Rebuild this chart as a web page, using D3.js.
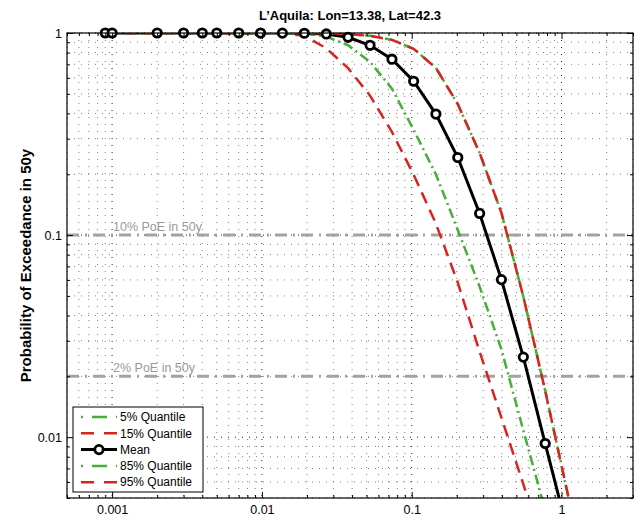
<!DOCTYPE html>
<html>
<head>
<meta charset="utf-8">
<script src="https://cdn.jsdelivr.net/npm/d3@7"></script>
<style>
body { margin: 0; background: #fff; }
text { font-family: "Liberation Sans", Arial, Helvetica, sans-serif; }
</style>
</head>
<body>
<div id="chart"></div>
<script>
// intensity levels (g) and probability of exceedance in 50y
var iml = [0.0009, 0.001, 0.002, 0.003, 0.004, 0.005, 0.007, 0.0098, 0.0137, 0.0192, 0.0269, 0.0376,
    0.0527, 0.0738, 0.103, 0.145, 0.203, 0.284, 0.397, 0.556, 0.778, 1.09, 1.52];

var q05 = [1, 1, 1, 1, 1, 1, 1, 1, 0.999, 0.995, 0.96, 0.87, 0.72, 0.53, 0.332, 0.2, 0.106, 0.0556,
    0.0272, 0.0108, 0.00435, 0.0018, 0.0007];
var q15 = [1, 1, 1, 1, 1, 1, 1, 1, 0.997, 0.97, 0.84, 0.67, 0.49, 0.324, 0.199, 0.114, 0.0582, 0.0265,
    0.0125, 0.00585, 0.00264, 0.0011, 0.0005];
var mean = [1, 1, 1, 1, 1, 1, 1, 0.9995, 0.999, 0.997, 0.989, 0.952, 0.869, 0.742, 0.577, 0.397, 0.242,
    0.128, 0.0602, 0.0249, 0.0093, 0.0035, 0.0012];
var q85 = [1, 1, 1, 1, 1, 1, 1, 1, 1, 1, 0.997, 0.988, 0.968, 0.925, 0.835, 0.672, 0.445, 0.255, 0.129,
    0.0496, 0.017, 0.0054, 0.0018];
var q95 = [1, 1, 1, 1, 1, 1, 1, 1, 1, 1, 0.997, 0.988, 0.968, 0.925, 0.835, 0.672, 0.445, 0.255, 0.129,
    0.0496, 0.017, 0.0054, 0.0018];

var seriesNames = ["5% Quantile", "15% Quantile", "Mean", "85% Quantile", "95% Quantile"];

var poeLevels = [0.1, 0.02];
var poeLabels = ["10% PoE in 50y", "2% PoE in 50y"];

var xMajor = [0.001, 0.01, 0.1, 1];
var xTickLabels = ["0.001", "0.01", "0.1", "1"];
var yMajor = [0.01, 0.1, 1];
var yTickLabels = ["0.01", "0.1", "1"];

var svgWidth = 644;
var svgHeight = 527;
var margin = { top: 33, right: 11, bottom: 29, left: 67 };
var width = svgWidth - margin.left - margin.right;
var height = svgHeight - margin.top - margin.bottom;

var green = "#44b035";
var red = "#d8241f";

var svg = d3.select("#chart").append("svg")
    .attr("width", svgWidth)
    .attr("height", svgHeight);

var x = d3.scaleLog().domain([0.0005, 3]).range([margin.left, margin.left + width]);
var y = d3.scaleLog().domain([0.005, 1]).range([margin.top + height, margin.top]);

// minor tick positions 2..9 in every decade
function minors(lo, hi) {
    var out = [];
    for (var e = -5; e <= 1; e++) {
        for (var m = 2; m <= 9; m++) {
            var v = m * Math.pow(10, e);
            if (v >= lo * 0.999 && v <= hi * 1.001) out.push(v);
        }
    }
    return out;
}
var xMinor = minors(0.0005, 3);
var yMinor = minors(0.005, 1);

svg.append("defs").append("clipPath").attr("id", "plot")
    .append("rect")
    .attr("x", margin.left).attr("y", margin.top)
    .attr("width", width).attr("height", height);

// grid (dotted)
var grid = svg.append("g");
grid.selectAll("line.vx")
    .data(xMinor.concat(xMajor))
    .enter().append("line")
    .attr("x1", d => x(d)).attr("x2", d => x(d))
    .attr("y1", margin.top).attr("y2", margin.top + height)
    .attr("stroke", d => xMajor.indexOf(d) >= 0 ? "#222" : "#808080")
    .attr("stroke-width", 1)
    .attr("stroke-dasharray", "1,6");
grid.selectAll("line.hy")
    .data(yMinor.concat(yMajor))
    .enter().append("line")
    .attr("y1", d => y(d)).attr("y2", d => y(d))
    .attr("x1", margin.left).attr("x2", margin.left + width)
    .attr("stroke", d => yMajor.indexOf(d) >= 0 ? "#222" : "#808080")
    .attr("stroke-width", 1)
    .attr("stroke-dasharray", "1,6");

// PoE reference lines
svg.selectAll("line.poe")
    .data(poeLevels)
    .enter().append("line")
    .attr("x1", margin.left).attr("x2", margin.left + width)
    .attr("y1", d => y(d)).attr("y2", d => y(d))
    .attr("stroke", "#a3a3a3")
    .attr("stroke-width", 3)
    .attr("stroke-dasharray", "12,6,2,6");

svg.selectAll("text.poe")
    .data(poeLevels)
    .enter().append("text")
    .attr("x", 113)
    .attr("y", d => y(d) - 4)
    .attr("font-size", "12.5px")
    .attr("fill", "#999")
    .text((d, i) => poeLabels[i]);

// curves
var series = [
    { name: seriesNames[0], values: q05, color: green, width: 2.5, dash: "10,4,2,4" },
    { name: seriesNames[1], values: q15, color: red, width: 2.5, dash: "12,7" },
    { name: seriesNames[2], values: mean, color: "#000", width: 3, dash: null },
    { name: seriesNames[3], values: q85, color: green, width: 2.5, dash: "10,4,2,4" },
    { name: seriesNames[4], values: q95, color: red, width: 2.5, dash: "12,7" }
];

var line = d3.line()
    .x(d => x(d[0]))
    .y(d => y(d[1]));

var curves = svg.append("g").attr("clip-path", "url(#plot)");
series.forEach(function (s) {
    var pts = iml.map((v, i) => [v, s.values[i]]);
    curves.append("path")
        .datum(pts)
        .attr("d", line)
        .attr("fill", "none")
        .attr("stroke", s.color)
        .attr("stroke-width", s.width)
        .attr("stroke-dasharray", s.dash);
});

// mean markers
var meanPts = iml.map((v, i) => [v, mean[i]]).filter(d => d[1] >= 0.005);
svg.selectAll("circle.mean")
    .data(meanPts)
    .enter().append("circle")
    .attr("cx", d => x(d[0]))
    .attr("cy", d => y(d[1]))
    .attr("r", 4.2)
    .attr("fill", "#fff")
    .attr("stroke", "#000")
    .attr("stroke-width", 2.8);

// axes with inward ticks
function styleAxis(g) {
    g.select(".domain").remove();
    g.selectAll("text").attr("font-size", "12.5px").attr("fill", "#000");
}
svg.append("g").attr("transform", `translate(0, ${margin.top + height})`)
    .call(d3.axisBottom(x).tickValues(xMajor).tickSize(-6).tickPadding(7)
        .tickFormat((d, i) => xTickLabels[i]))
    .call(styleAxis);
svg.append("g").attr("transform", `translate(0, ${margin.top + height})`)
    .call(d3.axisBottom(x).tickValues(xMinor).tickSize(-3).tickFormat(""))
    .call(styleAxis);
svg.append("g").attr("transform", `translate(0, ${margin.top})`)
    .call(d3.axisTop(x).tickValues(xMajor).tickSize(-6).tickFormat(""))
    .call(styleAxis);
svg.append("g").attr("transform", `translate(0, ${margin.top})`)
    .call(d3.axisTop(x).tickValues(xMinor).tickSize(-3).tickFormat(""))
    .call(styleAxis);
svg.append("g").attr("transform", `translate(${margin.left}, 0)`)
    .call(d3.axisLeft(y).tickValues(yMajor).tickSize(-6).tickPadding(5)
        .tickFormat((d, i) => yTickLabels[i]))
    .call(styleAxis);
svg.append("g").attr("transform", `translate(${margin.left}, 0)`)
    .call(d3.axisLeft(y).tickValues(yMinor).tickSize(-3).tickFormat(""))
    .call(styleAxis);
svg.append("g").attr("transform", `translate(${margin.left + width}, 0)`)
    .call(d3.axisRight(y).tickValues(yMajor).tickSize(-6).tickFormat(""))
    .call(styleAxis);
svg.append("g").attr("transform", `translate(${margin.left + width}, 0)`)
    .call(d3.axisRight(y).tickValues(yMinor).tickSize(-3).tickFormat(""))
    .call(styleAxis);

// frame
svg.append("rect")
    .attr("x", margin.left).attr("y", margin.top)
    .attr("width", width).attr("height", height)
    .attr("fill", "none")
    .attr("stroke", "#000")
    .attr("stroke-width", 1.2);

// title and y label
svg.append("text")
    .attr("x", margin.left + width / 2)
    .attr("y", 20)
    .attr("text-anchor", "middle")
    .attr("font-size", "13px")
    .attr("font-weight", "bold")
    .text("L\u2019Aquila: Lon=13.38, Lat=42.3");

svg.append("text")
    .attr("transform", `translate(31, ${margin.top + height / 2}) rotate(-90)`)
    .attr("text-anchor", "middle")
    .attr("font-size", "15px")
    .attr("font-weight", "bold")
    .text("Probability of Exceedance in 50y");

// legend
var legend = svg.append("g").attr("transform", "translate(73, 407)");
legend.append("rect")
    .attr("width", 130).attr("height", 85)
    .attr("fill", "#fff")
    .attr("stroke", "#000")
    .attr("stroke-width", 1);

var legendDash = { "10,4,2,4": "2,9,15,9,2", "12,7": "13,10,15" };
var rows = legend.selectAll("g.row")
    .data(series)
    .enter().append("g")
    .attr("transform", (d, i) => `translate(0, ${10 + i * 16.3})`);
rows.append("line")
    .attr("x1", 8).attr("x2", 44)
    .attr("stroke", d => d.color)
    .attr("stroke-width", d => d.width)
    .attr("stroke-dasharray", d => d.dash ? legendDash[d.dash] : null);
rows.filter(d => d.name === "Mean").append("circle")
    .attr("cx", 26).attr("r", 4.2)
    .attr("fill", "#fff").attr("stroke", "#000").attr("stroke-width", 2.8);
rows.append("text")
    .attr("x", 47)
    .attr("dy", "0.35em")
    .attr("font-size", "12px")
    .text(d => d.name);
</script>
</body>
</html>
